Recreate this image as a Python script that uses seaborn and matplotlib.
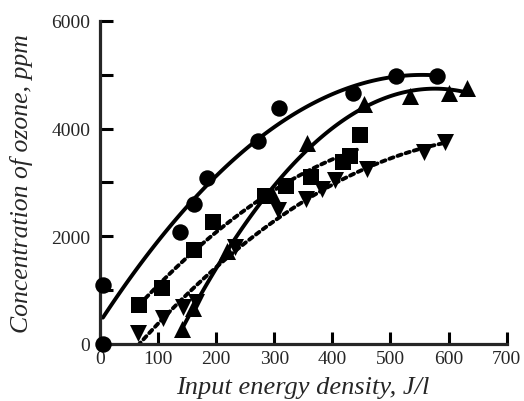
import numpy as np
import pandas as pd
import seaborn as sns
import matplotlib.pyplot as plt

# data (x: J/l, y: ppm)
circle_x = [5, 5, 137, 162, 184, 272, 309, 435, 510, 580]
circle_y = [0, 1100, 2080, 2600, 3090, 3780, 4380, 4670, 4980, 4980]

tri_up_x = [141, 160, 218, 296, 357, 455, 534, 600, 632]
tri_up_y = [280, 660, 1720, 2780, 3730, 4450, 4600, 4660, 4760]

square_x = [68, 106, 162, 194, 284, 320, 364, 419, 430, 447]
square_y = [720, 1040, 1740, 2270, 2750, 2940, 3100, 3380, 3500, 3880]

tri_down_x = [65, 109, 143, 166, 232, 306, 354, 383, 405, 460, 557, 594]
tri_down_y = [200, 480, 680, 780, 1800, 2480, 2700, 2880, 3040, 3250, 3570, 3750]

xticks = [0, 100, 200, 300, 400, 500, 600, 700]
yticks = [0, 1000, 2000, 3000, 4000, 5000, 6000]
ytick_labels = ['0', '', '2000', '', '4000', '', '6000']

sns.set_style("ticks")
plt.rcParams['font.family'] = ['Liberation Serif', 'DejaVu Serif']

fig = plt.figure(figsize=(5.24, 4.02), dpi=100)
ax = fig.add_axes([0.1908, 0.1418, 0.776, 0.8035])

dots = (0, (1.1, 1.1))
series = [
    (circle_x, circle_y, 'o', 140, '-'),
    (tri_up_x, tri_up_y, '^', 150, '-'),
    (square_x, square_y, 's', 130, dots),
    (tri_down_x, tri_down_y, 'v', 150, dots),
]
for xs, ys, mk, sz, ls in series:
    df = pd.DataFrame({'x': xs, 'y': ys})
    sns.regplot(data=df, x='x', y='y', order=2, ci=None, ax=ax, color='black',
                marker=mk,
                scatter_kws={'s': sz, 'alpha': 1, 'linewidths': 0, 'clip_on': False, 'zorder': 3},
                line_kws={'lw': 2.8, 'ls': ls, 'solid_capstyle': 'round',
                          'dash_capstyle': 'round', 'zorder': 2})

ax.set_xlim(0, 700)
ax.set_ylim(0, 6000)
ax.set_xticks(xticks)
ax.set_yticks(yticks)
ax.set_yticklabels(ytick_labels)
sns.despine(ax=ax)
for s in ['left', 'bottom']:
    ax.spines[s].set_linewidth(2.3)
ax.tick_params(direction='in', length=9, width=2.2, labelsize=14, color='black')
ax.tick_params(axis='x', pad=4)
ax.tick_params(axis='y', pad=7)

ax.set_xlabel('Input energy density, J/l', fontsize=19, style='italic', labelpad=7)
ax.set_ylabel('Concentration of ozone, ppm', fontsize=18.5, style='italic', labelpad=13)

fig.savefig('out.png', dpi=100)
